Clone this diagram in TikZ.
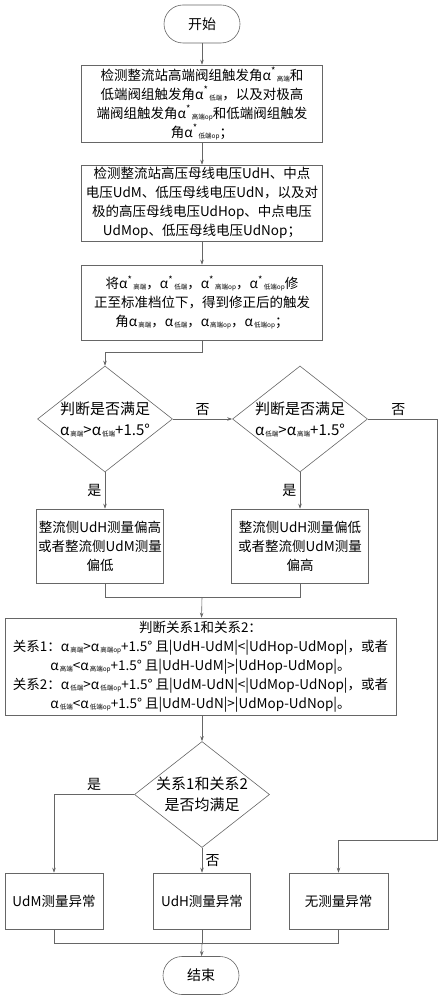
\documentclass[tikz,border=0pt]{standalone}
\usepackage{fontspec}
\setmainfont{Noto Sans CJK SC}
\usetikzlibrary{shapes.geometric, arrows.meta}
\newcommand{\lo}[1]{\kern1pt\raisebox{-1pt}{\fontsize{6.5pt}{6.5pt}\selectfont #1}}
\newcommand{\as}{α\textsuperscript{*}}

\begin{document}
\begin{tikzpicture}[x=1pt, y=-1pt,
    line/.style={draw=black!60, line width=.6pt},
    arr/.style={line, -{Stealth[length=5pt, width=3.5pt]}},
    term/.style={line, rounded corners=19pt, minimum width=76pt, minimum height=38pt, font=\fontsize{14pt}{19pt}\selectfont},
    proc/.style={line, align=center, inner sep=2pt, font=\fontsize{13.5pt}{19pt}\selectfont},
    dec/.style={diamond, line, aspect=1.26, minimum width=135pt, minimum height=106pt, inner sep=-6pt, align=center, font=\fontsize{15pt}{21pt}\selectfont},
    lbl/.style={font=\fontsize{14pt}{14pt}\selectfont}]
\useasboundingbox (0,0) rectangle (442,1000);
% top part
\node[term] (start) at (202,24) {开始};
\node[proc, minimum width=241pt, minimum height=77pt] (b1) at (202,103.5)
    {检测整流站高端阀组触发角\as\lo{高端}和\\
     低端阀组触发角\as\lo{低端}，以及对极高\\
     端阀组触发角\as\lo{高端op}和低端阀组触发\\
     角\as\lo{低端op}；};
\node[proc, minimum width=241pt, minimum height=76pt] (b2) at (202,203)
    {检测整流站高压母线电压UdH、中点\\
     电压UdM、低压母线电压UdN，以及对\\
     极的高压母线电压UdHop、中点电压\\
     UdMop、低压母线电压UdNop；};
\node[proc, minimum width=241pt, minimum height=75pt] (b3) at (202,302.5)
    {将\as\lo{高端}，\as\lo{低端}，\as\lo{高端op}，\as\lo{低端op}修\\
     正至标准档位下，得到修正后的触发\\
     角α\lo{高端}，α\lo{低端}，α\lo{高端op}，α\lo{低端op}；};
% decisions
\node[dec] (d1) at (105,419) {判断是否满足\\ α\lo{高端}>α\lo{低端}+1.5°};
\node[dec] (d2) at (300,419) {判断是否满足\\ α\lo{低端}>α\lo{高端}+1.5°};
\node[proc, minimum width=127pt, minimum height=74pt] (b4) at (100,546)
    {整流侧UdH测量偏高\\ 或者整流侧UdM测量\\ 偏低};
\node[proc, minimum width=137pt, minimum height=74pt] (b5) at (300,546)
    {整流侧UdH测量偏低\\ 或者整流侧UdM测量\\ 偏高};
\node[proc, minimum width=391pt, minimum height=97pt] (b6) at (200.5,666.5)
    {判断关系1和关系2：\\
     关系1：α\lo{高端}>α\lo{高端op}+1.5° 且|UdH-UdM|<|UdHop-UdMop|，或者\\
     α\lo{高端}<α\lo{高端op}+1.5° 且|UdH-UdM|>|UdHop-UdMop|。\\
     关系2：α\lo{低端}>α\lo{低端op}+1.5° 且|UdM-UdN|<|UdMop-UdNop|，或者\\
     α\lo{低端}<α\lo{低端op}+1.5° 且|UdM-UdN|>|UdMop-UdNop|。};
\node[dec] (d3) at (202,794.5) {关系1和关系2\\ 是否均满足};
% results
\node[proc, minimum width=98pt, minimum height=56pt] (b7) at (54,901) {UdM测量异常};
\node[proc, minimum width=97pt, minimum height=56pt] (b8) at (202,901) {UdH测量异常};
\node[proc, minimum width=99pt, minimum height=56pt] (b9) at (338.5,901) {无测量异常};
\node[term] (stop) at (201,975.5) {结束};
\coordinate (m1) at (202,597);
\coordinate (m2) at (202,943);
\coordinate (r1) at (437,840);
% connectors
\draw[arr] (start) -- (b1);
\draw[arr] (b1) -- (b2);
\draw[arr] (b2) -- (b3);
\draw[arr] (b3.south) -- ++(0,12) -| (d1.north);
\draw[arr] (d1.east) -- (d2.west) node[midway, above, lbl] {否};
\draw[arr] (d1.south) -- (d1.south |- b4.north) node[midway, left, lbl] {是};
\draw[arr] (d2.south) -- (b5.north) node[midway, left, lbl] {是};
\draw[arr] (d2.east) -| (r1) node[pos=.22, above, lbl] {否} -| (b9.north);
\draw[line] (d1.south |- b4.south) |- (m1);
\draw[line] (b5.south) |- (m1);
\draw[arr] (m1) -- (b6);
\draw[arr] (b6.south -| d3) -- (d3.north);
\draw[arr] (d3.west) -| (b7.north) node[pos=.25, above, lbl] {是};
\draw[arr] (d3.south) -- (b8.north) node[midway, right, lbl] {否};
\draw[line] (b7.south) |- (m2);
\draw[line] (b9.south) |- (m2);
\draw[line] (b8.south) -- (m2);
\draw[arr] (m2) -- (stop);
\end{tikzpicture}
\end{document}
